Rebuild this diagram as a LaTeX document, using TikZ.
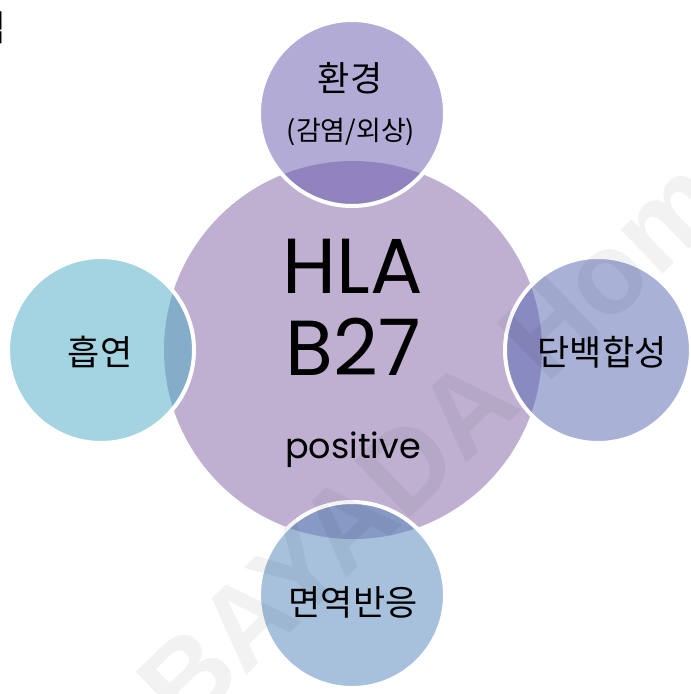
\documentclass[tikz,border=0pt]{standalone}
\usepackage{fontspec}
\setmainfont{Poppins}
\newfontfamily\kr{Noto Sans CJK KR}
\newfontfamily\wm{Liberation Sans}
\definecolor{bigc}{RGB}{191,176,209}
\definecolor{topc}{RGB}{101,89,173}
\definecolor{leftc}{RGB}{75,171,197}
\definecolor{rightc}{RGB}{85,101,177}
\definecolor{botc}{RGB}{81,133,189}
\tikzset{
  bigcirc/.style={circle, inner sep=0pt, minimum size=378pt, fill=bigc},
  satcirc/.style={circle, inner sep=0pt, minimum size=186pt, fill=#1, fill opacity=0.5, draw=white, draw opacity=1, line width=4pt},
  krtext/.style={font=\kr\fontsize{35}{40}\selectfont, text=black, inner sep=0pt},
  hla/.style={font=\fontsize{78}{84}\selectfont, text=black, inner sep=0pt}
}
\begin{document}
\begin{tikzpicture}[x=1pt,y=-1pt]
\useasboundingbox (0,0) rectangle (691,694);
\fill[white] (0,0) rectangle (691,694);
\node[bigcirc] (hub) at (353,350) {};
\node[satcirc=topc] (env) at (352,113) {};
\node[satcirc=leftc] (smoke) at (101,350) {};
\node[satcirc=rightc] (prot) at (598,350) {};
\node[satcirc=botc] (imm) at (352,595) {};
% watermark
\node[font=\wm\bfseries\fontsize{115}{120}\selectfont, text=black, text opacity=0.05, anchor=base west, rotate=44, inner sep=0pt] (wmark) at (185,735) {BAYADA Home};
% texts
\node[krtext] (t1) at (350,78) {환경};
\node[krtext, font=\kr\fontsize{27}{32}\selectfont] (t1b) at (351,132) {(감염/외상)};
\node[krtext] (t2) at (100,352) {흡연};
\node[krtext] (t3) at (602,352) {단백합성};
\node[krtext] (t4) at (353,602) {면역반응};
\node[hla, anchor=base] (h1) at (353,293) {HLA};
\node[hla, anchor=base] (h2) at (353,375) {B27};
\node[font=\fontsize{35}{40}\selectfont, anchor=base, inner sep=0pt] (h3) at (353,458) {positive};
\node[krtext, font=\kr\fontsize{36}{40}\selectfont, anchor=east] (cut) at (7,28) {님};
\end{tikzpicture}
\end{document}
